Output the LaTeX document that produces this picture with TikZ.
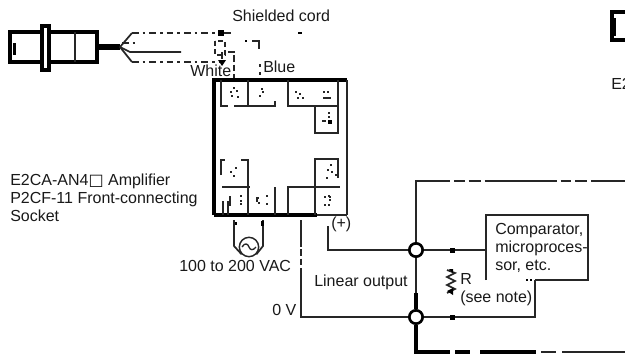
\documentclass[tikz,border=0pt]{standalone}
\usepackage{fontspec}
\setmainfont{Liberation Sans}
\newfontfamily\symf{DejaVu Sans}
\begin{document}
\begin{tikzpicture}[x=0.75pt,y=-0.75pt,line cap=butt,
  lbl/.style={inner sep=0pt,font=\fontsize{12pt}{13.5pt}\selectfont,text=black!90},
  wire/.style={draw=black!85,line width=1.3pt},
  thin wire/.style={draw=black!85,line width=1pt},
  heavy/.style={draw=black,line width=2.8pt},
  gap dash/.style={draw=black!85,line width=1.2pt,dash pattern=on 5pt off 3pt on 2pt off 3pt},
  junction/.style={circle,draw=black,line width=2pt,fill=white,minimum size=10pt,inner sep=0pt},
  acsrc/.style={circle,draw=black!85,line width=1.1pt,fill=white,minimum size=14.5pt,inner sep=0pt},
  speck/.style={fill=black!85,inner sep=0pt,minimum size=1.7pt}]
\useasboundingbox (0,0) rectangle (625,354);
% sensor
\draw[heavy] (10,32) rectangle (97,62);
\fill (13,43) rectangle (16,55);
\draw[heavy,fill=white] (42,26) rectangle (49,70);
\draw[wire] (75,32) -- (75,62);
\coordinate (fan) at (120,47);
\draw[draw=black,line width=4.5pt] (97,47) -- (fan);
\draw[wire] (fan) -- (132,33);
\draw[wire] (fan) -- (132,62);
\draw[wire] (fan) -- (130,52) -- (181,52);
\draw[gap dash] (132,33) -- (216,33);
\draw[gap dash] (132,62) -- (221,62);
\draw[gap dash] (122,43) -- (138,43);
\fill (218,30) rectangle (224,36);
\draw[gap dash] (224,33) -- (234,33);
\fill (298,32) rectangle (302,34);
% shield pigtail
\draw[thin wire,dash pattern=on 4pt off 2pt] (215,41) rectangle (225,55);
\draw[wire,dash pattern=on 5pt off 2pt] (222,52) -- (222,62);
\fill (218,60) -- (226,60) -- (222,66) -- cycle;
\coordinate (wt) at (234,80);
\coordinate (bt) at (260,80);
\draw[wire,dash pattern=on 5pt off 2pt] (228,52) -- (234,52) -- (wt);
\draw[wire] (252,41) -- (259,41) -- (259,49);
\fill (245,40) rectangle (247,42);
\draw[wire,dash pattern=on 2pt off 4pt] (260,64) -- (bt);
% terminal box
\node[draw=none,minimum width=100pt,minimum height=101pt,inner sep=0pt] (box) at (280.5,147.5) {};
\draw[heavy] (214,215) -- (214,80) -- (347,80);
\draw[wire] (347,80) -- (347,215);
\draw[heavy] (214,215) -- (317,215);
\draw[wire] (317,215) -- (347,215);
% upper terminals
\draw[wire] (221,80) -- (221,106) -- (228,106);
\draw[wire] (234,106) -- (275,106) -- (275,101);
\draw[wire] (248,80) -- (248,106);
\draw[wire] (288,80) -- (288,106) -- (338,106) -- (338,80);
\draw[wire] (315,106) -- (315,133) -- (338,133) -- (338,106);
% lower terminals
\draw[wire] (221,175) -- (221,160) -- (225,160);
\draw[wire] (241,160) -- (248,160) -- (248,215);
\draw[wire] (222,187) -- (250,187);
\draw[wire] (223,215) -- (223,201);
\draw[wire] (228,215) -- (228,201);
\draw[wire] (275,187) -- (275,215);
\draw[wire] (288,215) -- (288,187) -- (340,187);
\draw[wire] (338,178) -- (338,159) -- (315,159) -- (315,215);
% terminal specks
\foreach \x/\y in {231/92,234/88,237/91,232/96,238/97,262/89,263/92,260/96,296/92,300/94,298/98,303/98,324/92,328/92,330/121,329/113,329/117,329/196,329/205,331/165,328/170,327/178,332/172,336/175,325/197,325/205,330/197,330/200,231/172,236/168,234/176,258/198,259/203,267/196,267/204,241/196,241/204,241/201}
  \node[speck] at (\x,\y) {};
\draw[wire] (323,98) -- (331,98);
\draw[wire] (322,121) -- (326,121);
\fill (328,120) rectangle (332,124);
\draw[wire] (230,196) -- (230,206);
\draw[wire] (257,197) -- (257,202);
% AC source
\node[acsrc] (ac) at (249,247) {};
\draw[thin wire] (242,247) .. controls (245,242) and (248,244) .. (249,247) .. controls (250,250) and (253,251) .. (256,247);
\draw[wire] (234,220) -- (234,246) -- (ac.south west);
\draw[wire] (263,220) -- (263,246) -- (ac.south east);
\fill (261,221) rectangle (264,226);
\fill (235,222) rectangle (237,225);
% linear output loop
\node[junction] (jtop) at (416,250) {};
\node[junction] (jbot) at (416,317) {};
\draw[wire] (328,226) -- (328,250) -- (jtop);
\draw[wire] (301,220) -- (301,240);
\draw[wire,dash pattern=on 5pt off 2pt] (301,240) -- (301,270);
\draw[wire] (301,270) -- (301,317) -- (jbot);
\draw[wire] (jtop) -- (jbot);
\draw[heavy] (416,293) -- (jbot);
\draw[wire] (jtop) -- (416,181) -- (450,181);
\draw[wire,dash pattern=on 8pt off 3pt on 9pt off 3pt on 54pt off 3pt] (454,181) -- (625,181);
% comparator
\node[draw=none,minimum width=76pt,minimum height=49pt,inner sep=0pt] (cmp) at (537,247.5) {};
\draw[wire] (486,280) -- (486,215) -- (588,215) -- (588,280) -- (535,280);
\draw[wire] (jtop) -- (486,250);
\draw[wire] (jbot) -- (535,317) -- (535,280);
\fill (450,248) rectangle (455,253);
\fill (450,315) rectangle (455,320);
\fill (526,279) rectangle (528,281);
\fill (530,279) rectangle (532,281);
% resistor
\draw[wire] (447,270) -- (455,273) -- (447,277) -- (455,281) -- (447,285) -- (455,289) -- (447,293);
\fill (449,269) -- (453,269) -- (453,273) -- cycle;
\fill (447,291) -- (453,288) -- (453,295) -- cycle;
% bottom heavy return
\draw[heavy] (jbot) -- (416,352) -- (450,352);
\draw[heavy] (455,352) -- (470,352);
\draw[heavy] (480,352) -- (536,352);
\draw[wire] (541,352) -- (556,352);
\draw[wire] (562,352) -- (625,352);
% top right fragment
\draw[heavy] (625,12) -- (612,12) -- (612,40) -- (625,40);
\fill (612,18) rectangle (616,36);
% labels
\node[lbl,anchor=west] (t1) at (232,16) {Shielded cord};
\node[lbl,anchor=west] (t2) at (190,71) {White};
\node[lbl,anchor=west] (t3) at (263,67) {Blue};
\node[lbl,anchor=west,align=left] (t4) at (10,198) {E2CA-AN4{\symf\fontsize{12pt}{12pt}\selectfont □} Amplifier\\P2CF-11 Front-connecting\\Socket};
\node[lbl,anchor=west] (t5) at (331,224) {(+)};
\node[lbl,anchor=west] (t6) at (179,266) {100 to 200 VAC};
\node[lbl,anchor=west] (t7) at (314,282) {Linear output};
\node[lbl,anchor=west] (t8) at (272,310) {0 V};
\node[lbl,anchor=west,align=left] (t9) at (495,247.5) {Comparator,\\microproces-\\sor, etc.};
\node[lbl,anchor=west,align=left] (t10) at (460,289.5) {R\\(see note)};
\node[lbl,anchor=west] (t11) at (611,84) {E2};
\end{tikzpicture}
\end{document}
